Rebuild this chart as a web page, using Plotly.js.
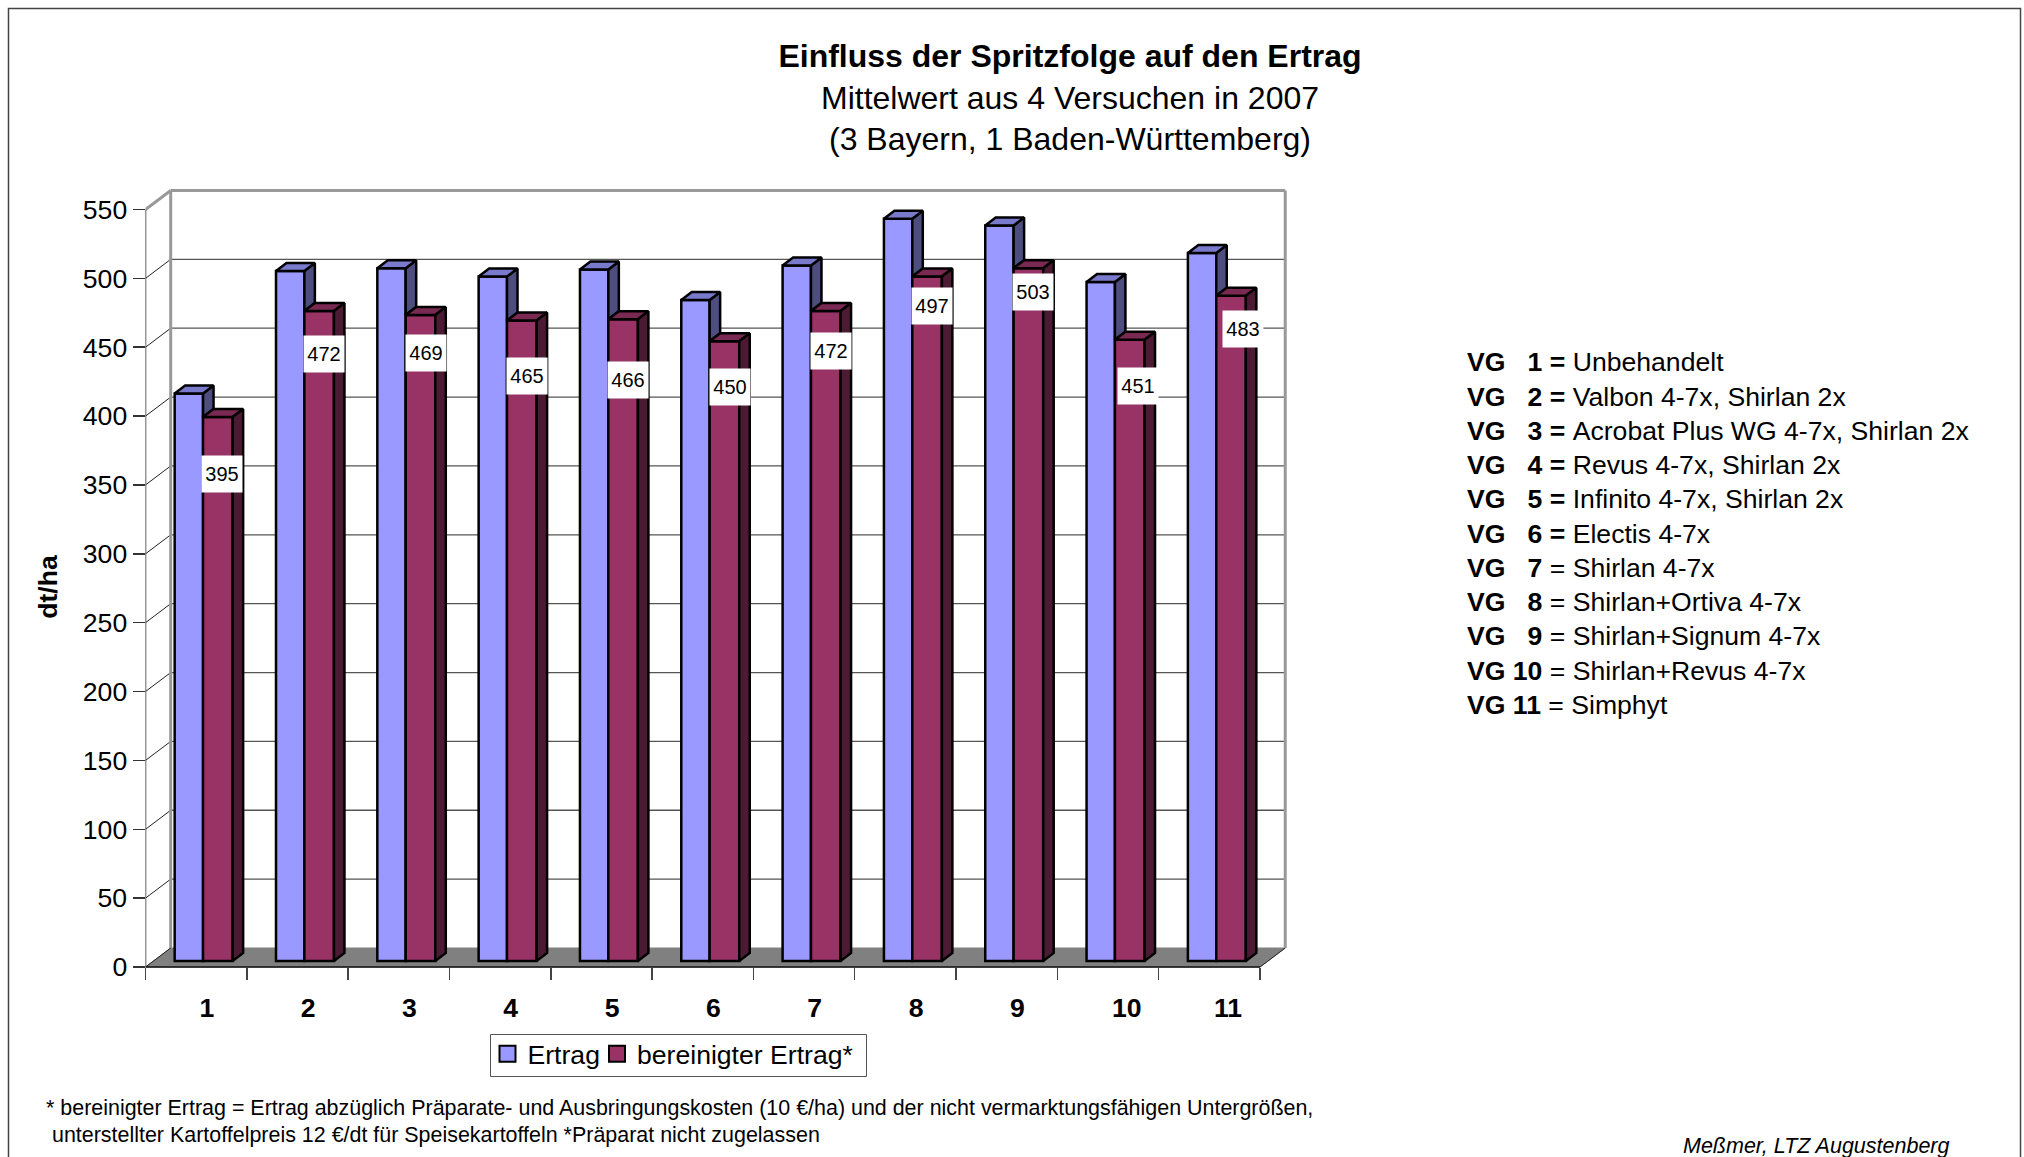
<!DOCTYPE html>
<html><head><meta charset="utf-8">
<script src="https://cdn.plot.ly/plotly-3.0.1.min.js"></script>
<style>html,body{margin:0;padding:0;background:#fff}</style></head>
<body><div id="chart" style="width:2024px;height:1157px"></div>
<script>
// ---- data ----
const categories = [1,2,3,4,5,6,7,8,9,10,11];
const ertrag     = [412,501,503,497,502,480,505,539,534,493,514];
const bereinigt  = [395,472,469,465,466,450,472,497,503,451,483];
const yTicks     = [0,50,100,150,200,250,300,350,400,450,500,550];
const labelPosX  = [1.255,2.263,3.268,4.265,5.26,6.27,7.263,8.263,9.259,10.293,11.33];
const labelPosY  = [358,445,446,429,426.5,421,447,480,490,422,463];
const legendNames = ['Ertrag','bereinigter Ertrag*'];
const titleLines = ['Einfluss der Spritzfolge auf den Ertrag','Mittelwert aus 4 Versuchen in 2007','(3 Bayern, 1 Baden-Württemberg)'];
const vgNumbers = ['\u00a0\u00a0\u00a01','\u00a0\u00a0\u00a02','\u00a0\u00a0\u00a03','\u00a0\u00a0\u00a04','\u00a0\u00a0\u00a05','\u00a0\u00a0\u00a06','\u00a0\u00a0\u00a07','\u00a0\u00a0\u00a08','\u00a0\u00a0\u00a09',' 10',' 11'];
const vgTexts = ['Unbehandelt','Valbon 4-7x, Shirlan 2x','Acrobat Plus WG 4-7x, Shirlan 2x','Revus 4-7x, Shirlan 2x','Infinito 4-7x, Shirlan 2x','Electis 4-7x','Shirlan 4-7x','Shirlan+Ortiva 4-7x','Shirlan+Signum 4-7x','Shirlan+Revus 4-7x','Simphyt'];
const vgBoldEquals = [true,true,true,true,true,true,false,false,false,false,false];
const footnotes = ['* bereinigter Ertrag = Ertrag abzüglich Präparate- und Ausbringungskosten (10 €/ha) und der nicht vermarktungsfähigen Untergrößen,','unterstellter Kartoffelpreis 12 €/dt für Speisekartoffeln *Präparat nicht zugelassen'];
const credit = 'Meßmer, LTZ Augustenberg';

// ---- geometry ----
const W=2024,H=1157,FONT='"Liberation Sans",Arial,sans-serif',FS=26.6;
const pxX=101.32, pxY=1.3773, axisPxL=145.5, axisPxB=967, plotPxR=1292, plotPxT=186, plotPxB=988;
const wallDx=25.2/pxX, wallDy=19/pxY;
const barDx=10.5/pxX, barDy=8/pxY, barBase=6/pxY;
const blueOff=-0.212, blueW=0.28, redOff=0.068, redW=0.292;
const xMin=0.5, xMax=xMin+(plotPxR-axisPxL)/pxX, xEnd=11.5;
const yMin=(axisPxB-plotPxB)/pxY, yMax=(axisPxB-plotPxT)/pxY;
const BLUE='#9999FF',RED='#993366',BLUET='#7A7ACC',BLUES='#4D4D80',REDT='#7A2952',REDS='#4D1A33',LW=2.5;

function poly(builder){const xs=[],ys=[];categories.forEach((c,i)=>{const p=builder(c,i);p.forEach(q=>{xs.push(q[0]);ys.push(q[1]);});xs.push(p[0][0]);ys.push(p[0][1]);xs.push(null);ys.push(null);});return {xs,ys};}
function face(p,color){return {type:'scatter',mode:'lines',x:p.xs,y:p.ys,fill:'toself',fillcolor:color,line:{color:'#000',width:LW},hoverinfo:'skip',showlegend:false};}
const blueTop=poly((c,i)=>{const l=c+blueOff,r=l+blueW,t=ertrag[i]+barBase;return [[l,t],[l+barDx,t+barDy],[r+barDx,t+barDy],[r,t]];});
const blueSide=poly((c,i)=>{const r=c+blueOff+blueW,t=ertrag[i]+barBase,b=bereinigt[i]+barBase;return [[r,t],[r+barDx,t+barDy],[r+barDx,b+barDy],[r,b]];});
const redTop=poly((c,i)=>{const l=c+redOff,r=l+redW,t=bereinigt[i]+barBase;return [[l,t],[l+barDx,t+barDy],[r+barDx,t+barDy],[r,t]];});
const redSide=poly((c,i)=>{const r=c+redOff+redW,t=bereinigt[i]+barBase;return [[r,t],[r+barDx,t+barDy],[r+barDx,barBase+barDy],[r,barBase]];});

const legendKey=(name,color,lg)=>({type:'scatter',mode:'markers',name,legend:lg,x:[null],y:[null],marker:{symbol:'square',size:16,color,line:{color:'#000',width:2}},hoverinfo:'skip',showlegend:true});
const traces=[
 {type:'bar',name:legendNames[0],x:categories,y:ertrag,base:barBase,offset:blueOff,width:blueW,marker:{color:BLUE,line:{color:'#000',width:LW}},hoverinfo:'x+y',showlegend:false},
 {type:'bar',name:legendNames[1],x:categories,y:bereinigt,base:barBase,offset:redOff,width:redW,marker:{color:RED,line:{color:'#000',width:LW}},hoverinfo:'x+y',showlegend:false},
 face(blueSide,BLUES),face(blueTop,BLUET),face(redTop,REDT),face(redSide,REDS),
 legendKey(legendNames[0],BLUE,'legend'),legendKey(legendNames[1],RED,'legend2')
];

const line=(c,w)=>({color:c,width:w});
const shapes=[];
const dataShape=(path,l,fill)=>({type:'path',xref:'x',yref:'y',layer:'below',path,line:l,fillcolor:fill||'rgba(0,0,0,0)'});
const bx=xMin+wallDx, bxr=xEnd+wallDx;
shapes.push(dataShape(`M${xMin},0 L${bx},${wallDy} L${bxr},${wallDy} L${xEnd},0 Z`,line('#808080',1),'#808080'));
yTicks.forEach(v=>{ if(v===0) return;
 shapes.push(dataShape(`M${xMin},${v} L${bx},${v+wallDy}`,line(v===550?'#999':'#222',v===550?3:1)));
 shapes.push(dataShape(`M${bx},${v+wallDy} L${bxr},${v+wallDy}`,line(v===550?'#999':'#555',v===550?3:1.3)));
});
shapes.push(dataShape(`M${bx},${wallDy} L${bx},${550+wallDy}`,line('#999',3)));
shapes.push(dataShape(`M${bxr},${wallDy} L${bxr},${550+wallDy}`,line('#999',3)));
shapes.push(dataShape(`M${xMin},0 L${bx},${wallDy}`,line('#222',1)));
shapes.push(dataShape(`M${xEnd},0 L${bxr},${wallDy}`,line('#222',1)));
shapes.push(dataShape(`M${xMin},0 L${xMin},550`,line('#333',1.5)));
shapes.push(dataShape(`M${xMin},0 L${xEnd},0`,line('#111',1.5)));
// outer frame and legend box
shapes.push({type:'path',xref:'paper',yref:'paper',layer:'below',path:`M${8.5/W},0 L${8.5/W},${1-8.5/H} L${2020.5/W},${1-8.5/H} L${2020.5/W},0`,line:line('#444',1.5)});
shapes.push({type:'rect',xref:'paper',yref:'paper',layer:'above',x0:490.5/W,x1:866.5/W,y0:1-1076.5/H,y1:1-1034.5/H,fillcolor:'#fff',line:line('#555',1)});

const annotations=[];
const px=(x)=>x/W, py=(y)=>1-y/H;
bereinigt.forEach((v,i)=>annotations.push({xref:'x',yref:'y',x:labelPosX[i],y:labelPosY[i],text:String(v),showarrow:false,width:40,height:36,bgcolor:'#fff',font:{family:FONT,size:20,color:'#000'},align:'center',valign:'middle',borderpad:0}));
vgNumbers.forEach((n,i)=>annotations.push({xref:'paper',yref:'paper',x:px(1465),y:py(362.5+i*34.23),xanchor:'left',yanchor:'middle',showarrow:false,align:'left',font:{family:FONT,size:FS,color:'#000'},
  text:vgBoldEquals[i]?`<b>VG${n}\u00a0=</b>\u00a0${vgTexts[i]}`:`<b>VG${n}</b>\u00a0=\u00a0${vgTexts[i]}`}));
annotations.push({xref:'paper',yref:'paper',x:px(44),y:py(1108),xanchor:'left',yanchor:'middle',showarrow:false,text:footnotes[0],font:{family:FONT,size:21.45,color:'#000'}});
annotations.push({xref:'paper',yref:'paper',x:px(50),y:py(1135),xanchor:'left',yanchor:'middle',showarrow:false,text:footnotes[1],font:{family:FONT,size:21.45,color:'#000'}});
annotations.push({xref:'paper',yref:'paper',x:px(1952),y:py(1146),xanchor:'right',yanchor:'middle',showarrow:false,text:`<i>${credit}</i>`,font:{family:FONT,size:21.5,color:'#000'}});

const tickShift=c=>c+0.105+(c>9?0.08:0);
const legendBase=(x)=>({orientation:'h',x:x/W,xanchor:'left',y:1-1030/H,yanchor:'top',bgcolor:'rgba(0,0,0,0)',borderwidth:0,font:{family:FONT,size:FS,color:'#000'},itemwidth:30});
const layout={
 width:W,height:H,margin:{l:0,r:0,t:0,b:0},paper_bgcolor:'#fff',plot_bgcolor:'rgba(0,0,0,0)',font:{family:FONT,color:'#000'},
 title:{text:`<b>${titleLines[0]}</b><br>${titleLines[1]}<br>${titleLines[2]}`,font:{family:FONT,size:32,color:'#000'},x:1070/W,xanchor:'center',xref:'paper',y:1-67/H,yanchor:'top',yref:'paper'},
 barmode:'overlay',showlegend:true,hovermode:'closest',
 xaxis:{type:'linear',domain:[axisPxL/W,plotPxR/W],range:[xMin,xMax],anchor:'free',position:1-axisPxB/H,
   tickmode:'array',tickvals:categories.map(tickShift),ticktext:categories.map(String),ticks:'',ticklen:0,
   showgrid:false,zeroline:false,showline:false,tickfont:{family:FONT,size:FS,color:'#000',weight:'bold'},ticklabelstandoff:22,
   minor:{tickmode:'array',tickvals:[0,1,2,3,4,5,6,7,8,9,10,11].map(k=>k+0.5),ticks:'outside',ticklen:12,tickcolor:'#444',tickwidth:1.5,showgrid:false}},
 yaxis:{type:'linear',domain:[1-plotPxB/H,1-plotPxT/H],range:[yMin,yMax],anchor:'x',side:'left',
   tickmode:'array',tickvals:yTicks,ticktext:yTicks.map(String),ticks:'outside',ticklen:12,tickcolor:'#333',tickwidth:1.5,
   showgrid:false,zeroline:false,showline:false,tickfont:{family:FONT,size:FS,color:'#000'},
   title:{text:'<b>dt/ha</b>',font:{family:FONT,size:FS,color:'#000'},standoff:17}},
 legend:legendBase(487.5),legend2:legendBase(597),
 shapes,annotations
};
Plotly.newPlot('chart',traces,layout,{displayModeBar:false,staticPlot:true});
</script></body></html>
